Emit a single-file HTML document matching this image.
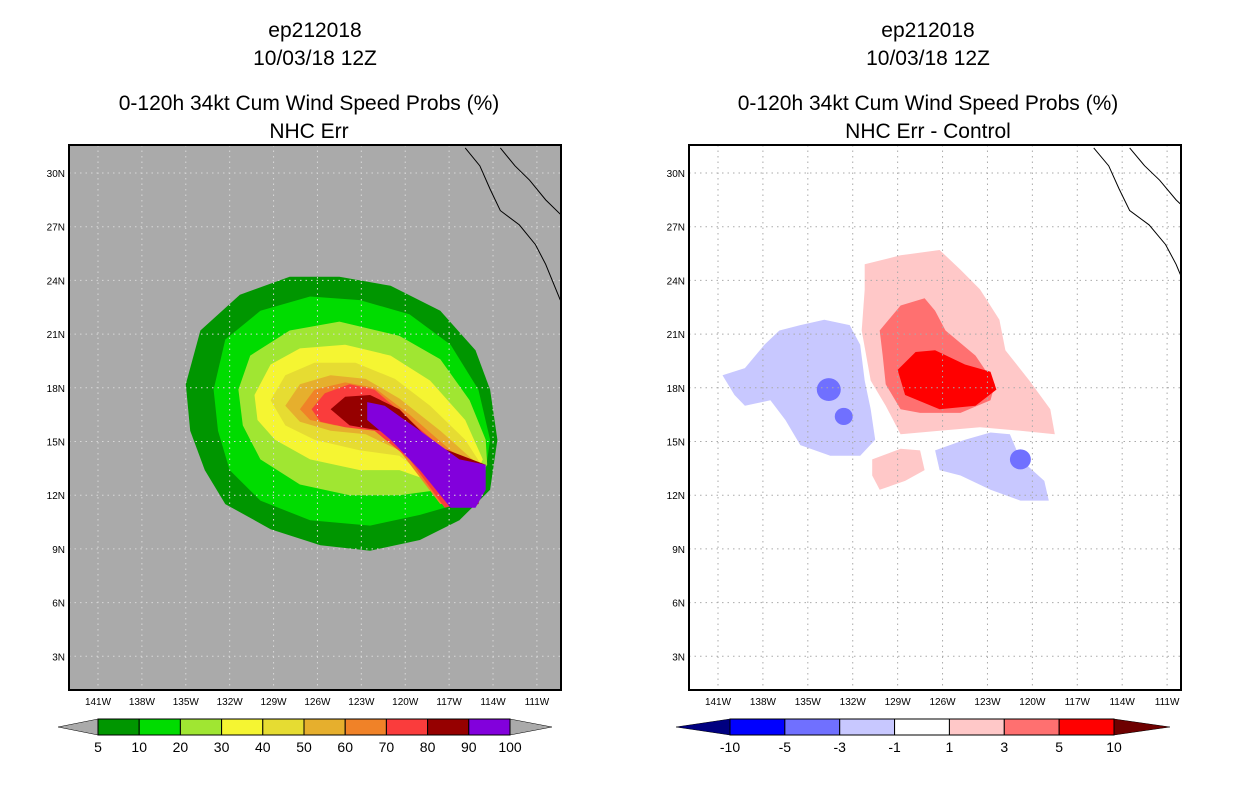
<!DOCTYPE html>
<html><head><meta charset="utf-8"><style>
body{margin:0;background:#fff;width:1236px;height:800px;overflow:hidden;font-family:"Liberation Sans",sans-serif}
svg text{font-family:"Liberation Sans",sans-serif}
</style></head><body>
<svg id="chart" width="1236" height="800" xmlns="http://www.w3.org/2000/svg">
<g font-size="21" text-anchor="middle" fill="#000">
<text x="315" y="37">ep212018</text><text x="315" y="65">10/03/18 12Z</text>
<text x="309" y="110">0-120h 34kt Cum Wind Speed Probs (%)</text><text x="309" y="138">NHC Err</text></g>
<g font-size="21" text-anchor="middle" fill="#000">
<text x="928" y="37">ep212018</text><text x="928" y="65">10/03/18 12Z</text>
<text x="928" y="110">0-120h 34kt Cum Wind Speed Probs (%)</text><text x="928" y="138">NHC Err - Control</text></g>
<g id="left"></g>
<g id="right"></g>
</svg>
<script>
const NS="http://www.w3.org/2000/svg";
const latTicks=[30,27,24,21,18,15,12,9,6,3];
const lonTicks=[141,138,135,132,129,126,123,120,117,114,111];
const probLevels=["5","10","20","30","40","50","60","70","80","90","100"];
const probColors=["#009600","#00dc00","#a0e632","#f5f532","#e6dc32","#e6af2d","#f08228","#fa3c3c","#960000","#8200dc"];
const diffLevels=["-10","-5","-3","-1","1","3","5","10"];
const diffColors=["#0000ff","#7070ff","#c8c8ff","#ffffff","#ffc8c8","#ff7070","#ff0000"];
// probability contours [lonW, lat]
const p5=[[135,18.2],[134,21.2],[131.3,23.2],[127.9,24.2],[124.5,24.2],[121,23.7],[117.6,22.3],[115.2,20.1],[114.2,17.9],[113.7,15.1],[114.2,12.3],[116.3,10.6],[119,9.5],[122.4,8.9],[125.8,9.2],[129.2,10.1],[132.3,11.5],[133.7,13.4],[134.7,15.6]];
const p10=[[133.1,17.9],[132.3,20.7],[129.9,22.3],[126.5,23.1],[123.1,22.9],[119.7,22.1],[116.9,20.4],[115,17.9],[114.2,15.1],[114.5,13.4],[115.6,11.7],[119,10.9],[122.4,10.3],[126.5,10.6],[129.9,11.7],[132,13.4],[132.8,15.6]];
const p20=[[131.4,17.9],[130.6,19.8],[127.9,21.2],[124.5,21.7],[120.4,20.9],[117.6,19.6],[115.6,17.3],[114.5,15.1],[114.4,13.7],[115.6,12.3],[117.6,12.3],[120.4,12],[123.8,12],[127.2,12.6],[129.9,14],[131.1,15.9]];
const p30=[[130.3,17.6],[129.2,19.3],[127.2,20.2],[124.1,20.4],[121,19.8],[118.3,18.4],[115.9,16.2],[114.7,14],[115.7,12.3],[117.6,12.6],[120.4,13.4],[123.1,13.4],[126.5,14],[128.9,15.1],[130.1,16.2]];
const p40=[[129.2,17.3],[128.2,18.7],[126.2,19.4],[123.4,19.4],[120.7,18.5],[118.3,17],[115.9,15.1],[114.8,13.7],[115.6,12.2],[117.6,12.4],[120.4,14.2],[123.1,14.5],[126.2,15.1],[128.2,15.9]];
const p50=[[128.2,17],[127.2,18.2],[125.1,18.7],[122.7,18.5],[120.4,17.4],[117.6,15.6],[115,13.7],[115.6,12],[117.6,12],[120.4,14.5],[122.7,15.4],[125.1,15.6],[127.2,16.1]];
const p60=[[127.2,16.8],[126.2,17.9],[124.1,18.3],[122.1,18],[119.7,16.5],[116.9,14.5],[114.9,13.5],[115.6,11.8],[117.6,11.5],[120.4,14.5],[122.4,15.9],[124.8,15.9],[126.5,16.2]];
const p70=[[126.4,16.8],[125.5,17.7],[123.8,18.2],[122.1,17.9],[119.7,16.2],[117.3,14.5],[114.7,13.7],[115.2,11.7],[117.3,11.3],[119.7,14],[122.1,15.6],[124.1,15.8],[125.8,16.1]];
const p80=[[125.1,16.8],[124.1,17.5],[122.4,17.6],[120.4,16.8],[118,14.8],[114.5,13.7],[115,11.5],[116.9,11.3],[119.3,14],[121.7,15.6],[123.8,15.9]];
const p90=[[122.6,17.2],[121.4,17],[119,15.6],[116.3,14],[114.5,13.7],[114.5,12.3],[115.2,11.3],[116.9,11.3],[119,13.4],[121,15.1],[122.6,16.2]];
const probContours=[p5,p10,p20,p30,p40,p50,p60,p70,p80,p90];
// difference contours [lonW, lat]
const dBlue1=[[140.7,18.7],[139.2,19.1],[137.9,20.4],[136.9,21.2],[135.5,21.5],[133.9,21.8],[132.2,21.5],[131.5,20.4],[131.2,18.4],[130.8,16.8],[130.5,15.1],[131.5,14.2],[133.5,14.2],[135.5,14.8],[136.5,16.2],[137.5,17.3],[139.2,17],[139.9,17.6]];
const dBlue2=[[126.5,14.5],[124.5,15.1],[122.8,15.5],[121.5,15.4],[120.8,14],[119.2,12.8],[118.9,11.7],[120.8,11.7],[122.8,12.3],[124.8,13.1],[126.2,13.4]];
const dRed1=[[131.2,24.9],[128.8,25.4],[126.2,25.7],[124.8,24.6],[123.5,23.5],[122.2,21.8],[121.8,20.1],[120.2,18.4],[118.8,16.8],[118.5,15.4],[120.8,15.6],[123.5,15.8],[126.2,15.6],[128.8,15.4],[129.8,17],[130.8,18.4],[131.4,21.2],[131.2,23.5]];
const dRed2=[[130.2,21.2],[128.8,22.6],[127.2,23],[126.5,22.3],[125.8,21.2],[123.8,19.8],[122.5,18.2],[122.8,17.3],[124.8,16.6],[127.5,16.6],[128.8,16.8],[129.8,18.2],[130,19.8]];
const dRed3=[[129,19],[127.8,20],[126.5,20.1],[124.5,19.3],[122.8,18.9],[122.4,17.9],[123.8,17],[126.2,16.8],[128.5,17.6]];
const dRed4=[[130.7,14],[128.8,14.6],[127.5,14.5],[127.2,13.4],[128.5,12.8],[130.2,12.3],[130.7,13.1]];
const dBlueSpots=[[133.6,17.9,0.8],[132.6,16.4,0.6],[120.8,14,0.7]];
const coast1=[[115.9,31.4],[114.9,30.4],[114.2,29.1],[113.5,27.9],[112.2,27.1],[111.1,26],[110.4,24.9],[109.8,23.7],[109.4,22.9]];
const coast2=[[113.5,31.4],[112.5,30.4],[111.5,29.6],[110.4,28.5],[109.4,27.7]];

function mk(parent,tag,attrs){const e=document.createElementNS(NS,tag);for(const k in attrs)e.setAttribute(k,attrs[k]);parent.appendChild(e);return e;}

function drawMap(g,x0,pxPerLon,bg){
  const X=l=>x0+(141-l)*pxPerLon;
  const Y=la=>173+(30-la)*17.9;
  const frame={x:x0-29,w:492};
  const cp=mk(g,"clipPath",{id:"cp"+x0});mk(cp,"rect",{x:frame.x,y:145,width:frame.w,height:545});
  const r=mk(g,"rect",{x:frame.x,y:145,width:frame.w,height:545,fill:bg});
  
  
  const c=mk(g,"g",{"clip-path":`url(#cp${x0})`});
  return {X,Y,c,frame};
}
function poly(parent,X,Y,pts,fill,name){
  const d="M"+pts.map(p=>X(p[0]).toFixed(1)+","+Y(p[1]).toFixed(1)).join("L")+"Z";
  const p=mk(parent,"path",{d,fill});
  
  
}
function finish(m,gridColor){
  const {X,Y,c,frame}=m;const g=c.parentNode;
  latTicks.forEach(la=>{mk(c,"line",{x1:frame.x,x2:frame.x+frame.w,y1:Y(la),y2:Y(la),stroke:gridColor,"stroke-dasharray":"1.5,4"});
    const t=mk(g,"text",{x:frame.x-4,y:Y(la)+4,"font-size":"10","text-anchor":"end"});t.textContent=la+"N";
    
    });
  lonTicks.forEach(lo=>{mk(c,"line",{y1:145,y2:690,x1:X(lo),x2:X(lo),stroke:gridColor,"stroke-dasharray":"1.5,4"});
    const t=mk(g,"text",{x:X(lo),y:705,"font-size":"10","text-anchor":"middle"});t.textContent=lo+"W";
    
    });
  [coast1,coast2].forEach(cs=>{const l=mk(c,"polyline",{points:cs.map(p=>X(p[0])+","+Y(p[1])).join(" "),fill:"none",stroke:"#000","stroke-width":"1"});
    
    });
  const f=mk(g,"rect",{x:frame.x,y:145,width:frame.w,height:545,fill:"none",stroke:"#000","stroke-width":"2"});
  
  
}
// left
const L=drawMap(document.getElementById("left"),98,14.63,"#aaaaaa");
probContours.forEach((pts,i)=>poly(L.c,L.X,L.Y,pts,probColors[i],"prob-contour-"+probLevels[i]));
finish(L,"#d8d8d8");
// right
const R=drawMap(document.getElementById("right"),718,14.97,"#ffffff");
poly(R.c,R.X,R.Y,dBlue1,diffColors[2],"diff-minus1-west");
poly(R.c,R.X,R.Y,dBlue2,diffColors[2],"diff-minus1-south");
poly(R.c,R.X,R.Y,dRed1,diffColors[4],"diff-plus1");
poly(R.c,R.X,R.Y,dRed4,diffColors[4],"diff-plus1-south");
poly(R.c,R.X,R.Y,dRed2,diffColors[5],"diff-plus3");
poly(R.c,R.X,R.Y,dRed3,diffColors[6],"diff-plus5");
dBlueSpots.forEach(s=>{const e=mk(R.c,"ellipse",{cx:R.X(s[0]),cy:R.Y(s[1]),rx:s[2]*14.97,ry:s[2]*17.9*0.8,fill:diffColors[1]});
  
  });
finish(R,"#aaaaaa");
// colorbars
function colorbar(x0,x1,tipL,tipR,colors,labels,lc,rc,nm){
  const svg=document.getElementById("chart");
  const g=mk(svg,"g",{});
  
  
  const w=(x1-x0)/colors.length,y=719,h=16;
  mk(g,"polygon",{points:`${tipL},${y+h/2} ${x0},${y} ${x0},${y+h}`,fill:lc,stroke:"#000","stroke-width":"0.5"});
  mk(g,"polygon",{points:`${tipR},${y+h/2} ${x1},${y} ${x1},${y+h}`,fill:rc,stroke:"#000","stroke-width":"0.5"});
  colors.forEach((c,i)=>mk(g,"rect",{x:x0+i*w,y,width:w,height:h,fill:c,stroke:"#000","stroke-width":"1"}));
  labels.forEach((l,i)=>{const t=mk(g,"text",{x:x0+i*w,y:752,"font-size":"14","text-anchor":"middle"});t.textContent=l;
    
    });
}
colorbar(98,510,58,552,probColors,probLevels,"#aaaaaa","#aaaaaa","prob-colorbar");
colorbar(730,1114,676,1170,diffColors,diffLevels,"#000080","#6e0000","diff-colorbar");
</script>
</body></html>
